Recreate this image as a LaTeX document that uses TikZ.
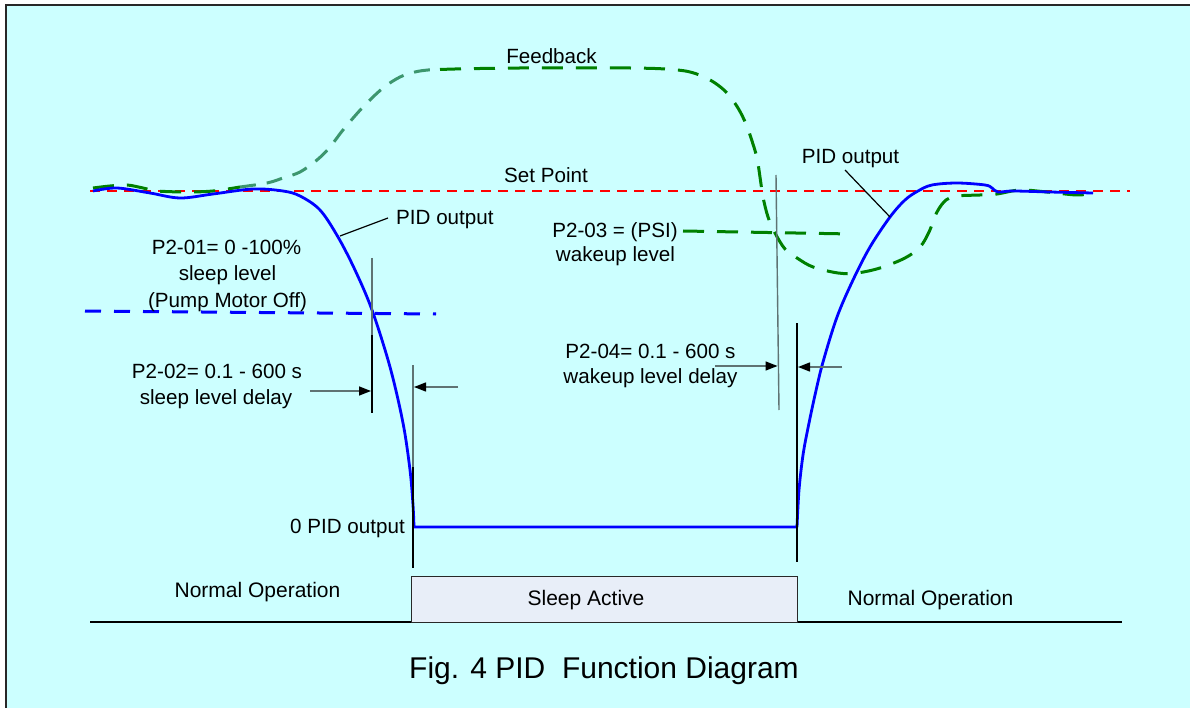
\documentclass[tikz,border=0pt]{standalone}
\usepackage{fontspec}
\setmainfont{Liberation Sans}
\usetikzlibrary{arrows.meta}
\definecolor{bgcyan}{RGB}{204,255,255}
\definecolor{framecol}{RGB}{40,40,40}
\definecolor{pidblue}{RGB}{0,0,255}
\definecolor{fbgreen}{RGB}{0,128,0}
\definecolor{fblight}{RGB}{60,150,110}
\definecolor{spred}{RGB}{255,0,0}
\definecolor{boxfill}{RGB}{232,238,248}
\definecolor{markgray}{RGB}{95,115,115}
\begin{document}
\begin{tikzpicture}[x=1pt,y=-1pt,
  lbl/.style={font=\fontsize{20.6}{24}\selectfont, inner sep=0pt, anchor=base},
  botlbl/.style={font=\fontsize{21}{25}\selectfont, inner sep=0pt, anchor=base},
  caplbl/.style={font=\fontsize{30}{34}\selectfont, inner sep=0pt, anchor=base},
  pidline/.style={pidblue, line width=2.8pt, line join=round},
  fbdark/.style={fbgreen, line width=3pt, dash pattern=on 21pt off 13pt},
  fblt/.style={fblight, line width=3pt, dash pattern=on 16pt off 11pt},
  setline/.style={spred, line width=1.5pt, dash pattern=on 10pt off 7pt},
  sleepline/.style={pidblue, line width=3pt, dash pattern=on 16pt off 13pt},
  markline/.style={markgray, line width=1.4pt},
  markblack/.style={black, line width=1.6pt},
  leader/.style={black, line width=1.2pt},
  arr/.style={markgray, line width=1.4pt, -{Triangle[length=12pt,width=9pt,color=black,fill=black]}},
  statebox/.style={draw=framecol, line width=1pt, fill=boxfill, minimum width=386pt, minimum height=46pt, inner sep=0pt}
]
\useasboundingbox (0,0) rectangle (1190,708);
% background and frame
\fill[white] (0,0) rectangle (1190,708);
\fill[bgcyan] (6,5) rectangle (1190,708);
\draw[framecol, line width=1.5pt] (6,708) -- (6,5) -- (1190,5);

% set point
\coordinate (spL) at (90,191);
\coordinate (spR) at (1130,191);
\draw[setline] (spL) -- (spR);

% sleep level line
\coordinate (slL) at (85,311);
\coordinate (slR) at (436,314);
\draw[sleepline] (slL) -- (slR);

% wakeup level line
\coordinate (wlL) at (683,231);
\coordinate (wlR) at (852,234);
\draw[fbdark] (wlL) -- (wlR);

% feedback curve
\draw[fbdark] plot[smooth, tension=0.55] coordinates {(93,188) (110,186) (127,185) (143,188) (157,191) (187,192) (213,191) (240,187)};
\draw[fblt] plot[smooth, tension=0.55] coordinates {(240,187) (267,183) (283,178) (300,172) (317,160) (330,147) (343,130) (363,107) (383,88) (400,77) (415,72) (428,70) (440,69.5)};
\draw[fbdark] plot[smooth, tension=0.55] coordinates {(440,69.5) (455,69) (480,68.5) (520,68) (560,68) (600,68) (630,68) (655,68.5) (672,69.5) (688,71.5) (702,76) (715,83) (727,93) (738,108) (746,124) (752,141) (757,158) (760,177) (763,197) (768,217) (775,233) (785,249) (797,258) (813,267) (838,273) (857,273) (880,268) (905,258) (920,247) (929,232) (937,212) (946,200) (957,196) (980,195) (997,194) (1020,190) (1047,192) (1077,195) (1093,193)};

% PID output curve
\draw[pidline] plot[smooth, tension=0.55] coordinates {(93,191) (117,188) (150,193) (180,198) (213,194) (253,189) (283,191) (300,196) (320,210) (338,237) (355,270) (372,310) (390,367) (403,423) (410,470) (413,505) (414,527)}
  -- plot[smooth, tension=0.55] coordinates {(797,527) (799,490) (803,455) (808,428) (815,395) (823,362) (837,317) (853,280) (870,247) (890,217) (905,200) (918,191) (932,185) (957,183) (985,185) (992,188) (998,192) (1013,191) (1050,192) (1093,193)};

% marker lines
\coordinate (m1a) at (372,258); \coordinate (m1b) at (372,335); \coordinate (m1c) at (372,413);
\draw[markline] (m1a) -- (m1b);
\draw[markblack] (m1b) -- (m1c);
\coordinate (m2a) at (413,365); \coordinate (m2b) at (413,467); \coordinate (m2c) at (413,568);
\draw[markline] (m2a) -- (m2b);
\draw[markblack] (m2b) -- (m2c);
\coordinate (m3a) at (776,175); \coordinate (m3b) at (779,410);
\draw[markline] (m3a) -- (m3b);
\coordinate (m4a) at (797,323); \coordinate (m4b) at (797,562);
\draw[markblack, line width=1.3pt] (m4a) -- (m4b);

% delay arrows
\coordinate (a1s) at (310,391); \coordinate (a1e) at (371,391);
\draw[arr] (a1s) -- (a1e);
\coordinate (a2s) at (458,387); \coordinate (a2e) at (414,387);
\draw[arr] (a2s) -- (a2e);
\coordinate (a3s) at (715,366); \coordinate (a3e) at (777.5,366);
\draw[arr] (a3s) -- (a3e);
\coordinate (a4s) at (842,367); \coordinate (a4e) at (798,367);
\draw[arr] (a4s) -- (a4e);

% labels
\node[lbl] (feedback) at (551.5,64) {Feedback};
\node[lbl] (setpoint) at (546,183) {Set Point};
\node[lbl, anchor=base west] (pidL) at (396,225) {PID output};
\node[lbl] (pidR) at (850.5,164) {PID output};
\node[lbl] (p201) at (226.5,255) {P2-01= 0 -100\%};
\node[lbl] (sleeplvl) at (227.5,281) {sleep level};
\node[lbl] (pump) at (227.5,307) {(Pump Motor Off)};
\node[lbl] (p202) at (217,378) {P2-02= 0.1 - 600 s};
\node[lbl] (sleepdelay) at (216,404) {sleep level delay};
\node[lbl] (zeropid) at (347.5,533) {0 PID output};
\node[lbl] (p203) at (615,238) {P2-03 = (PSI)};
\node[lbl] (wakelvl) at (615.5,262) {wakeup level};
\node[lbl] (p204) at (650.5,358) {P2-04= 0.1 - 600 s};
\node[lbl] (wakedelay) at (650.5,383) {wakeup level delay};

% leader lines
\coordinate (pidLtip) at (340,236); \coordinate (pidLend) at (388,218);
\draw[leader] (pidLtip) -- (pidLend);
\coordinate (pidRend) at (845,170); \coordinate (pidRtip) at (890,217);
\draw[leader] (pidRend) -- (pidRtip);

% base line and state box
\coordinate (blL) at (90,622); \coordinate (blR) at (1122,622);
\draw[black, line width=1.8pt] (blL) -- (blR);
\node[statebox] (sleepbox) at (604,599) {};
\node[botlbl] (sleepact) at (586,605) {Sleep Active};
\node[botlbl] (normL) at (257.5,597) {Normal Operation};
\node[botlbl] (normR) at (930.5,605) {Normal Operation};

% caption
\node[caplbl] (caption) at (604,678) {Fig. 4 PID\ \ Function Diagram};
\end{tikzpicture}
\end{document}
